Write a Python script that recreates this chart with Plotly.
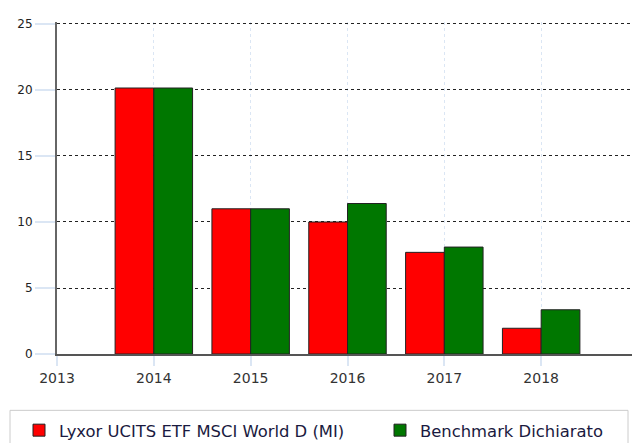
import plotly.graph_objects as go

years = [2014, 2015, 2016, 2017, 2018]
fund = [20.15, 11.0, 10.0, 7.7, 1.95]
bench = [20.15, 11.0, 11.4, 8.1, 3.35]
tick_years = [2013, 2014, 2015, 2016, 2017, 2018]
y_ticks = [0, 5, 10, 15, 20, 25]
names = ["Lyxor UCITS ETF MSCI World D (MI)", "Benchmark Dichiarato"]
colors = ["#ff0000", "#007700"]

# page body has an 8px margin, so figure coordinates = page coordinates - 8
OFF = 8
YMAX = 25.15
W, H = 640 - OFF, 443 - OFF
L, R = 57 - OFF, 2
T = 24 - OFF - (YMAX - 25) * 13.19
B = H - (353.7 - OFF)
pw = W - L - R
ph = H - T - B

def px_x(p):
    return (p - OFF - L) / pw

def px_y(p):
    return (H - B - (p - OFF)) / ph

fig = go.Figure()
legends = ["legend", "legend2"]
for vals, name, col, lg in zip([fund, bench], names, colors, legends):
    fig.add_trace(go.Bar(x=years, y=vals, name=name, legend=lg, showlegend=True,
                         marker=dict(color=col, line=dict(color="#222222", width=1))))

leg_common = dict(orientation="h", xref="container", yref="container",
                  xanchor="left", yanchor="top", bgcolor="rgba(0,0,0,0)", borderwidth=0,
                  font=dict(size=16.4, color="#1a1a40"))

fig.update_layout(
    width=W, height=H, showlegend=True,
    margin=dict(l=L, r=R, t=T, b=B, autoexpand=False),
    paper_bgcolor="white", plot_bgcolor="white",
    barmode="group", bargap=0.2, bargroupgap=0,
    font=dict(family="DejaVu Sans", color="#333333"),
    xaxis=dict(range=[2013, 2019], tickvals=tick_years, ticktext=[str(t) for t in tick_years],
               showgrid=True, gridcolor="#dbe6f4", griddash="dot", gridwidth=1,
               ticks="outside", ticklen=10, tickcolor="#dbe6f4", tickwidth=2,
               showline=True, linecolor="#555555", linewidth=1.5, automargin=False,
               tickfont=dict(size=14, color="#333333"), zeroline=False),
    yaxis=dict(range=[0, YMAX], tickvals=y_ticks,
               showgrid=True, gridcolor="#222222", griddash="dot", gridwidth=1,
               ticks="outside", ticklen=20, tickcolor="#dbe6f4", tickwidth=2,
               showline=True, linecolor="#666666", linewidth=2, automargin=False,
               tickfont=dict(size=12, color="#222222"), zeroline=False),
    legend=dict(x=(19 - OFF) / W, y=1 - (413 - OFF) / H, **leg_common),
    legend2=dict(x=(380 - OFF) / W, y=1 - (413 - OFF) / H, **leg_common),
    shapes=[dict(type="rect", xref="paper", yref="paper",
                 x0=px_x(10), x1=px_x(628), y0=px_y(410), y1=px_y(470),
                 line=dict(color="#cccccc", width=1), fillcolor="rgba(0,0,0,0)", layer="below")],
)

fig.write_html("out.html")
